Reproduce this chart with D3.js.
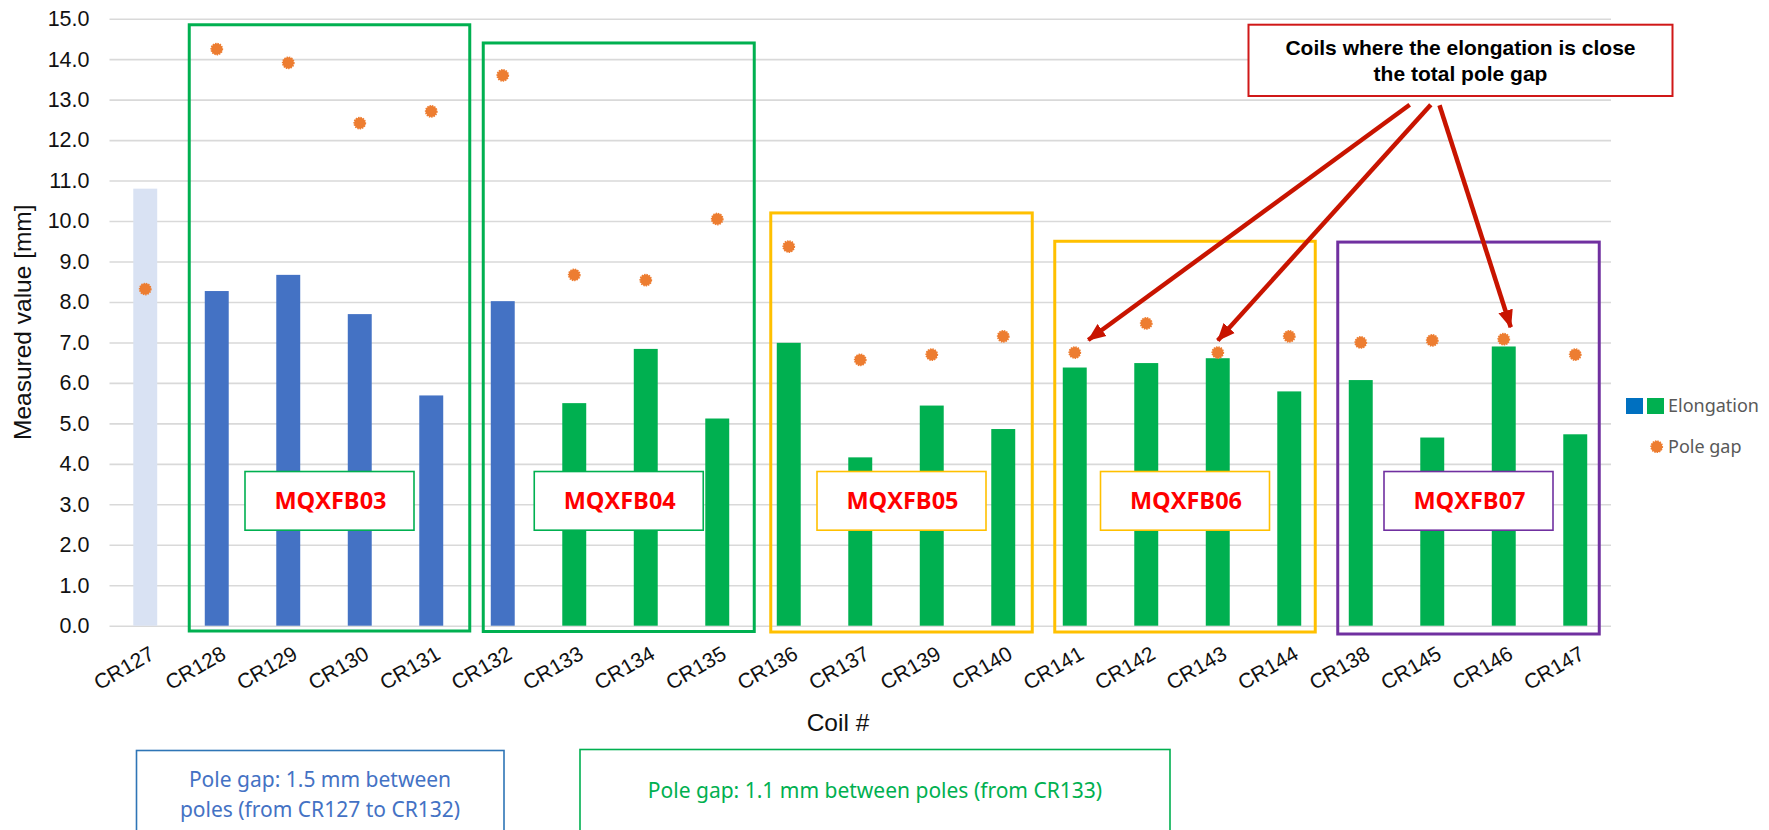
<!DOCTYPE html>
<html>
<head>
<meta charset="utf-8">
<script src="https://cdn.jsdelivr.net/npm/d3@7"></script>
<style>
  body { margin: 0; background: #fff; }
  svg { display: block; }
</style>
</head>
<body>
<div id="chart-area"></div>
<script>
// coils in the order they appear on the axis
const coils = ["CR127", "CR128", "CR129", "CR130", "CR131", "CR132", "CR133", "CR134",
  "CR135", "CR136", "CR137", "CR139", "CR140", "CR141", "CR142", "CR143", "CR144",
  "CR138", "CR145", "CR146", "CR147"];
const elongation = [10.80, 8.27, 8.67, 7.70, 5.69, 8.02, 5.50, 6.84, 5.12, 6.99, 4.16,
  5.44, 4.86, 6.38, 6.49, 6.61, 5.79, 6.07, 4.65, 6.90, 4.73];
const poleGap = [8.32, 14.25, 13.91, 12.42, 12.71, 13.60, 8.67, 8.54, 10.05, 9.37, 6.57,
  6.70, 7.15, 6.75, 7.47, 6.75, 7.15, 7.00, 7.05, 7.08, 6.70];
// which pole gap regime each coil belongs to
const gapRegime = ["none", "1.5", "1.5", "1.5", "1.5", "1.5", "1.1", "1.1", "1.1", "1.1",
  "1.1", "1.1", "1.1", "1.1", "1.1", "1.1", "1.1", "1.1", "1.1", "1.1", "1.1"];
const yTicks = [0, 1, 2, 3, 4, 5, 6, 7, 8, 9, 10, 11, 12, 13, 14, 15];

const magnetNames = ["MQXFB03", "MQXFB04", "MQXFB05", "MQXFB06", "MQXFB07"];
const magnetFirst = ["CR128", "CR132", "CR136", "CR141", "CR138"];
const magnetLast = ["CR131", "CR135", "CR140", "CR144", "CR147"];
const magnetTop = [14.85, 14.40, 10.20, 9.50, 9.48];
const closeCoils = ["CR141", "CR143", "CR146"];

const W = 1769, H = 830;
const plotL = 109.5, plotR = 1611, plotT = 18.7, plotB = 625.7;

var svg = d3.select("#chart-area").append("svg")
  .attr("xmlns", "http://www.w3.org/2000/svg")
  .attr("width", W).attr("height", H)
  .style("font-family", "'Liberation Sans', Arial, sans-serif");

var x = d3.scaleBand().domain(coils).range([plotL, plotR])
  .paddingInner(0.665).paddingOuter(0.3325);
var y = d3.scaleLinear().domain([0, 15]).range([plotB, plotT]);
var cx = function (c) { return x(c) + x.bandwidth() / 2; };

var barColor = d3.scaleOrdinal().domain(["none", "1.5", "1.1"])
  .range(["#d9e2f3", "#4472c4", "#00b050"]);

// gridlines
var grid = svg.append("g").attr("transform", "translate(" + plotL + ",0)")
  .call(d3.axisLeft(y).tickValues(yTicks).tickSize(-(plotR - plotL)).tickFormat(""));
grid.select(".domain").remove();
grid.selectAll("line").attr("stroke", "#d9d9d9").attr("stroke-width", 1.6);

// y tick labels
var yAxis = svg.append("g").attr("transform", "translate(" + plotL + ",0)")
  .call(d3.axisLeft(y).tickValues(yTicks).tickSize(0).tickPadding(20).tickFormat(d3.format(".1f")));
yAxis.select(".domain").remove();
yAxis.selectAll("text").attr("font-size", "21.5px").attr("fill", "#111")
  .style("font-family", "'Liberation Sans', Arial, sans-serif");

// x tick labels
var xAxis = svg.append("g").attr("transform", "translate(0," + plotB + ")")
  .call(d3.axisBottom(x).tickSize(0));
xAxis.select(".domain").remove();
xAxis.selectAll("text")
  .attr("y", 0).attr("dy", "0.72em")
  .attr("text-anchor", "end")
  .attr("transform", "translate(3,19) rotate(-30)")
  .attr("font-size", "21px").attr("fill", "#111")
  .style("font-family", "'Liberation Sans', Arial, sans-serif");

// axis titles
svg.append("text")
  .attr("transform", "translate(31," + (plotT + plotB) / 2 + ") rotate(-90)")
  .attr("text-anchor", "middle")
  .attr("font-size", "24.5px").attr("fill", "#111")
  .text("Measured value [mm]");
svg.append("text")
  .attr("x", 838).attr("y", 731)
  .attr("text-anchor", "middle")
  .attr("font-size", "24.5px").attr("fill", "#111")
  .text("Coil #");

// bars
svg.append("g").selectAll("rect").data(coils).join("rect")
  .attr("x", function (d) { return x(d); })
  .attr("width", x.bandwidth())
  .attr("y", function (d, i) { return y(elongation[i]); })
  .attr("height", function (d, i) { return y(0) - y(elongation[i]); })
  .attr("fill", function (d, i) { return barColor(gapRegime[i]); });

// pole gap markers
svg.append("g").selectAll("circle").data(coils).join("circle")
  .attr("cx", function (d) { return cx(d); })
  .attr("cy", function (d, i) { return y(poleGap[i]); })
  .attr("r", 5.6)
  .attr("fill", "#ed7d31")
  .attr("stroke", "#ed7d31").attr("stroke-width", 1.6)
  .attr("stroke-dasharray", "1.4 1");

// magnet boxes (hand placed in the original, offsets from bar centres)
const boxColors = ["#00b050", "#00b050", "#ffc000", "#ffc000", "#7030a0"];
const padL = [27.5, 19.5, 18, 20, 23];
const padR = [38.5, 37, 29, 26, 24];
const boxBottom = [631, 631.5, 632, 632, 634];
var boxes = svg.append("g");
magnetNames.forEach(function (m, i) {
  var x0 = cx(magnetFirst[i]) - padL[i];
  var x1 = cx(magnetLast[i]) + padR[i];
  var y0 = y(magnetTop[i]);
  boxes.append("rect")
    .attr("x", x0).attr("y", y0)
    .attr("width", x1 - x0).attr("height", boxBottom[i] - y0)
    .attr("fill", "none").attr("stroke", boxColors[i]).attr("stroke-width", 3);
  var mid = (x0 + x1) / 2;
  boxes.append("rect")
    .attr("x", mid - 84.5).attr("y", y(3.81))
    .attr("width", 169).attr("height", y(2.36) - y(3.81))
    .attr("fill", "#fff").attr("stroke", boxColors[i]).attr("stroke-width", 1.6);
  boxes.append("text")
    .attr("x", mid + 1).attr("y", (y(3.81) + y(2.36)) / 2)
    .attr("dy", "0.36em")
    .attr("text-anchor", "middle")
    .attr("font-size", "23.5px").attr("font-weight", "bold")
    .attr("fill", "#ff0000")
    .style("font-family", "'Open Sans', 'Noto Sans', sans-serif")
    .text(m);
});

// call-out box and arrows
svg.append("defs").append("marker")
  .attr("id", "head").attr("markerUnits", "userSpaceOnUse")
  .attr("viewBox", "0 -8 18 16").attr("refX", 17).attr("refY", 0)
  .attr("markerWidth", 18).attr("markerHeight", 16).attr("orient", "auto")
  .append("path").attr("d", "M0,-7.5L18,0L0,7.5Z").attr("fill", "#c81400");

svg.append("rect")
  .attr("x", 1248.5).attr("y", 24.7).attr("width", 424).attr("height", 71.3)
  .attr("fill", "#fff").attr("stroke", "#d01818").attr("stroke-width", 2);
svg.append("text")
  .attr("x", 1460.5).attr("y", 55)
  .attr("text-anchor", "middle").attr("font-size", "21px").attr("font-weight", "bold")
  .attr("fill", "#000")
  .text("Coils where the elongation is close");
svg.append("text")
  .attr("x", 1460.5).attr("y", 81)
  .attr("text-anchor", "middle").attr("font-size", "21px").attr("font-weight", "bold")
  .attr("fill", "#000")
  .text("the total pole gap");

const arrowStart = [[1409.7, 104.7], [1430.8, 104.7], [1439.5, 105.3]];
const arrowShift = [[13.5, -12.5], [0, -12], [7, -12]];
closeCoils.forEach(function (c, k) {
  var i = coils.indexOf(c);
  svg.append("line")
    .attr("x1", arrowStart[k][0]).attr("y1", arrowStart[k][1])
    .attr("x2", cx(c) + arrowShift[k][0]).attr("y2", y(poleGap[i]) + arrowShift[k][1])
    .attr("stroke", "#c81400").attr("stroke-width", 4.5)
    .attr("marker-end", "url(#head)");
});

// legend
var lg = svg.append("g").style("font-family", "'Noto Sans', 'Open Sans', sans-serif");
lg.append("rect").attr("x", 1626).attr("y", 398).attr("width", 17).attr("height", 16).attr("fill", "#0070c0");
lg.append("rect").attr("x", 1647).attr("y", 398).attr("width", 17).attr("height", 16).attr("fill", "#00b050");
lg.append("text").attr("x", 1668).attr("y", 406).attr("dy", "0.35em")
  .attr("font-size", "18px").attr("fill", "#595959").text("Elongation");
lg.append("circle").attr("cx", 1656.7).attr("cy", 446.7).attr("r", 5.6)
  .attr("fill", "#ed7d31").attr("stroke", "#ed7d31").attr("stroke-width", 1.6)
  .attr("stroke-dasharray", "1.4 1");
lg.append("text").attr("x", 1668).attr("y", 446.7).attr("dy", "0.35em")
  .attr("font-size", "18px").attr("fill", "#595959").text("Pole gap");

// notes below the chart
var notes = svg.append("g").style("font-family", "'Noto Sans', 'Open Sans', sans-serif");
notes.append("rect").attr("x", 136.5).attr("y", 750.5).attr("width", 367.5).attr("height", 120)
  .attr("fill", "#fff").attr("stroke", "#2e75b6").attr("stroke-width", 1.6);
notes.append("text").attr("x", 320).attr("y", 786.5).attr("text-anchor", "middle")
  .attr("font-size", "21px").attr("fill", "#4472c4").text("Pole gap: 1.5 mm between");
notes.append("text").attr("x", 320).attr("y", 816.5).attr("text-anchor", "middle")
  .attr("font-size", "21px").attr("fill", "#4472c4").text("poles (from CR127 to CR132)");
notes.append("rect").attr("x", 580).attr("y", 749.5).attr("width", 590).attr("height", 120)
  .attr("fill", "#fff").attr("stroke", "#00b050").attr("stroke-width", 1.6);
notes.append("text").attr("x", 875).attr("y", 798.3).attr("text-anchor", "middle")
  .attr("font-size", "21px").attr("fill", "#00b050").text("Pole gap: 1.1 mm between poles (from CR133)");
</script>
</body>
</html>
